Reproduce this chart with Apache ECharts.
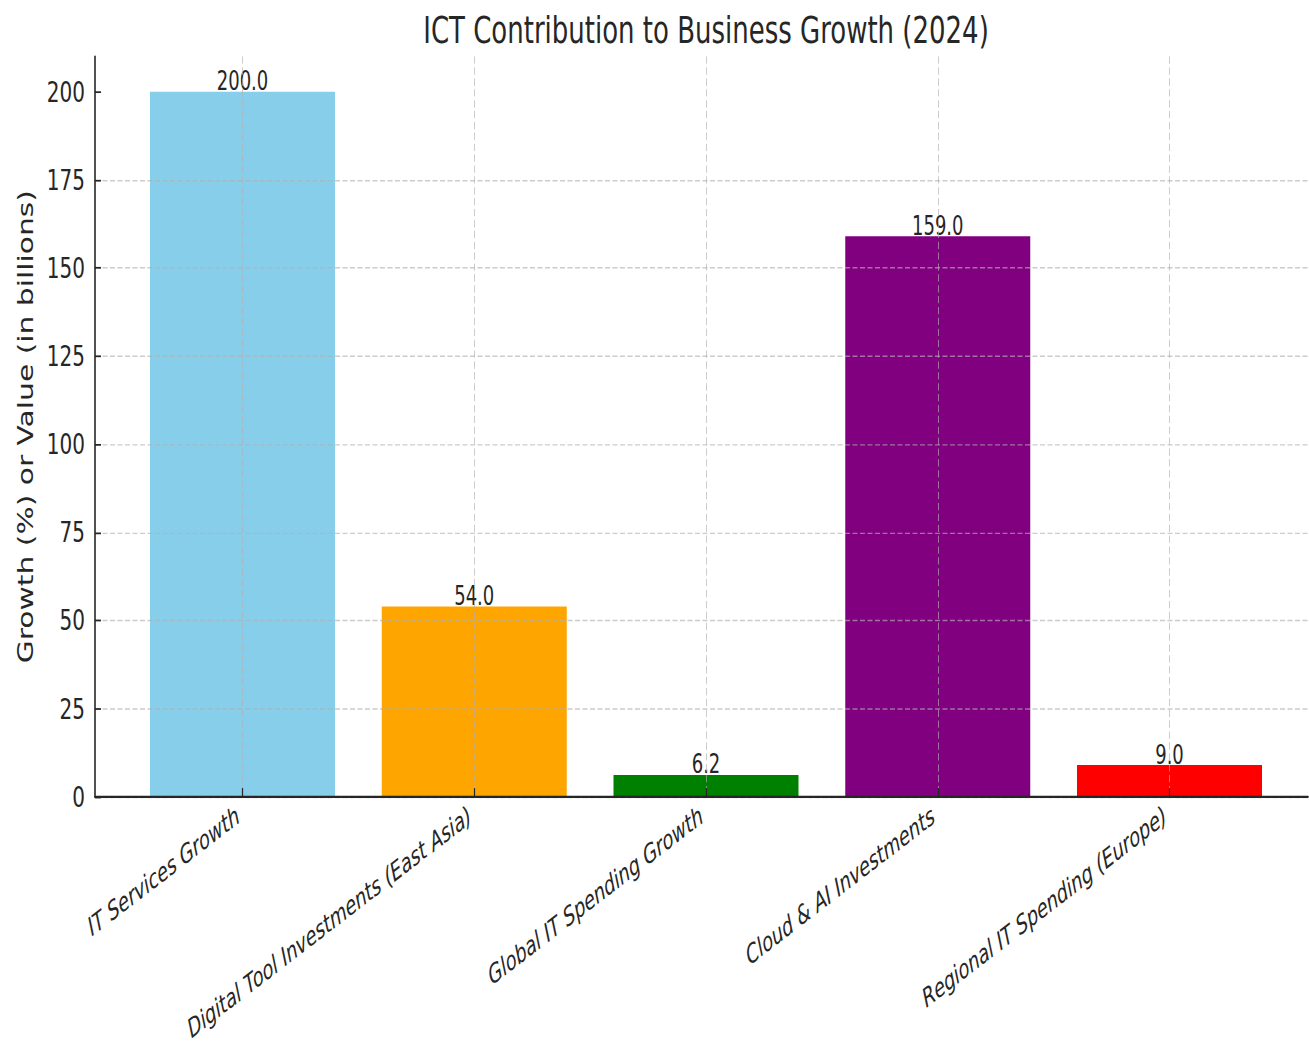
<!DOCTYPE html>
<html>
<head>
<meta charset="utf-8">
<script src="https://cdn.jsdelivr.net/npm/echarts@6/dist/echarts.min.js"></script>
<style>
  html, body { margin: 0; padding: 0; background: #fff; }
  #wrap { width: 1309px; height: 1045px; overflow: hidden; }
  /* the reference is stretched vertically, so draw short and scale up */
  #chart { width: 1309px; height: 720px; transform: scaleY(1.45139); transform-origin: 0 0; }
</style>
</head>
<body>
<div id="wrap"><div id="chart"></div></div>
<script>
const categories = [
  "IT Services Growth",
  "Digital Tool Investments (East Asia)",
  "Global IT Spending Growth",
  "Cloud & AI Investments",
  "Regional IT Spending (Europe)"
];
const values = [200.0, 54.0, 6.2, 159.0, 9.0];
const barColors = ["#87CEEB", "#FFA500", "#008000", "#800080", "#FF0000"];
const yTicks = [0, 25, 50, 75, 100, 125, 150, 175, 200];

const font = "DejaVu Sans";
const ink = "#262626";
const gridLine = { color: "rgba(176,176,176,0.65)", width: 1, type: [5, 2.5] };

const chart = echarts.init(document.getElementById("chart"), null, { renderer: "svg" });

const option = {
  animation: false,
  backgroundColor: "#fff",
  title: {
    text: "ICT Contribution to Business Growth (2024)",
    left: 706,
    top: 8,
    padding: 0,
    textAlign: "center",
    textStyle: { fontFamily: font, fontSize: 26, fontWeight: "normal", color: ink }
  },
  grid: [
    // full axes box (spines + horizontal grid)
    { left: 95, right: 1, top: 39, bottom: 171, outerBoundsMode: "none", containLabel: false },
    // bar area, categories at the tick centres
    { left: 242.5, right: 139.5, top: 39, bottom: 171, outerBoundsMode: "none", containLabel: false }
  ],
  xAxis: [
    {
      gridIndex: 0, type: "value", min: 0, max: 1, z: 5,
      axisLine: { show: true, lineStyle: { color: ink, width: 1.6 } },
      axisTick: { show: false }, axisLabel: { show: false }, splitLine: { show: false }
    },
    {
      gridIndex: 1, type: "category", data: categories, boundaryGap: false, z: 5,
      axisLine: { show: false },
      axisTick: { show: true, inside: true, length: 6, interval: 0, lineStyle: { color: ink, width: 1.2 } },
      axisLabel: {
        interval: 0, rotate: 28, margin: 9, padding: [0, 5, 0, 0],
        fontFamily: font, fontSize: 18, fontStyle: "italic", color: ink
      },
      splitLine: { show: true, interval: 0, lineStyle: gridLine }
    }
  ],
  yAxis: [
    {
      gridIndex: 0, type: "value", min: 0, max: 210, interval: 25, z: 5,
      name: "Growth (%) or Value (in billions)",
      nameLocation: "middle", nameRotate: 90, nameGap: 58,
      nameTextStyle: { fontFamily: font, fontSize: 20.5, color: ink },
      axisLine: { show: true, lineStyle: { color: ink, width: 1.6 } },
      axisTick: { show: true, inside: true, length: 6, customValues: yTicks, lineStyle: { color: ink, width: 1.2 } },
      axisLabel: { customValues: yTicks, margin: 10, fontFamily: font, fontSize: 20, color: ink },
      splitLine: { show: true, showMaxLine: false, lineStyle: gridLine }
    },
    { gridIndex: 1, type: "value", min: 0, max: 210, show: false }
  ],
  series: [
    {
      type: "bar",
      xAxisIndex: 1,
      yAxisIndex: 1,
      barWidth: 185,
      clip: false,
      data: values.map((v, i) => ({ value: v, itemStyle: { color: barColors[i] } })),
      label: {
        show: true,
        position: "top",
        distance: -1.5,
        formatter: (p) => p.value.toFixed(1),
        fontFamily: font,
        fontSize: 18,
        color: ink
      }
    }
  ]
};

chart.setOption(option);
</script>
</body>
</html>
